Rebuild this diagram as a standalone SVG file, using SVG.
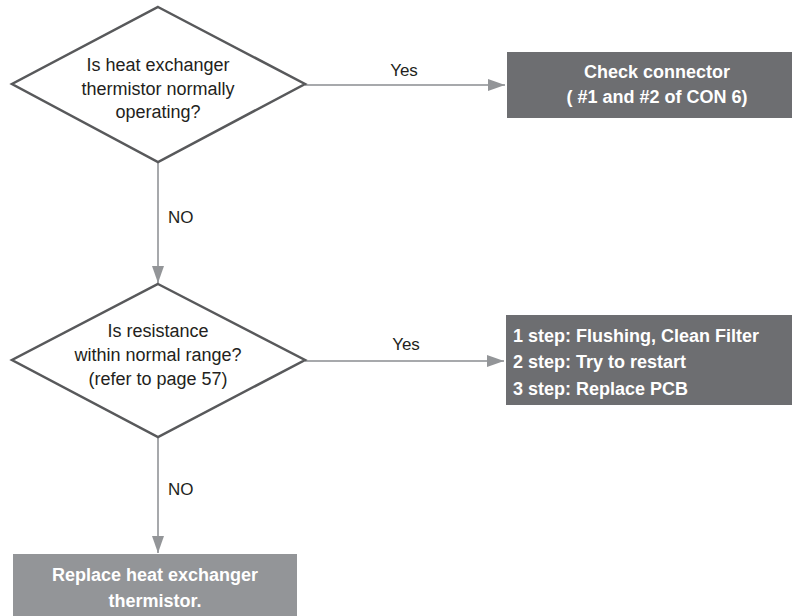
<svg xmlns="http://www.w3.org/2000/svg" width="792" height="616" viewBox="0 0 792 616">
<style>
.dia{fill:#ffffff;stroke:#58595b;stroke-width:2.5;stroke-linejoin:miter}
.con{fill:none;stroke:#a7a9ac;stroke-width:2}
.t{font-family:"Liberation Sans",Arial,sans-serif;font-size:18px;fill:#231f20;text-anchor:middle}
.lbl{font-family:"Liberation Sans",Arial,sans-serif;font-size:17px;fill:#231f20}
.bt{font-family:"Liberation Sans",Arial,sans-serif;font-size:18px;font-weight:bold;fill:#ffffff}
.dark{fill:#6d6e71}
.light{fill:#939598}
</style>
<defs>
<marker id="ah" markerUnits="userSpaceOnUse" markerWidth="18" markerHeight="12" refX="17" refY="6" orient="auto">
<path d="M0,0 L17,6 L0,12 Z" fill="#939598"/>
</marker>
</defs>
<g id="connectors">
<line class="con" x1="305" y1="85" x2="505" y2="85" marker-end="url(#ah)"/>
<line class="con" x1="158" y1="162" x2="158" y2="283" marker-end="url(#ah)"/>
<line class="con" x1="305" y1="361" x2="504" y2="361" marker-end="url(#ah)"/>
<line class="con" x1="158" y1="437" x2="158" y2="553" marker-end="url(#ah)"/>
<text class="lbl" x="404" y="76" text-anchor="middle">Yes</text>
<text class="lbl" x="168" y="223">NO</text>
<text class="lbl" x="406" y="350" text-anchor="middle">Yes</text>
<text class="lbl" x="168" y="495">NO</text>
</g>
<g id="decision1">
<polygon class="dia" points="158,7 305,84 158,162 12,84"/>
<text class="t" x="158" y="71">Is heat exchanger</text>
<text class="t" x="158" y="95">thermistor normally</text>
<text class="t" x="158" y="118">operating?</text>
</g>
<g id="checkConnector">
<rect class="dark" x="507" y="52" width="285" height="66"/>
<text class="bt" x="657" y="78" text-anchor="middle">Check connector</text>
<text class="bt" x="657" y="103" text-anchor="middle">( #1 and #2 of CON 6)</text>
</g>
<g id="decision2">
<polygon class="dia" points="158,284 305,360 158,437 12,360"/>
<text class="t" x="158" y="337">Is resistance</text>
<text class="t" x="158" y="361">within normal range?</text>
<text class="t" x="158" y="385">(refer to page 57)</text>
</g>
<g id="steps">
<rect class="dark" x="506" y="315" width="286" height="90"/>
<text class="bt" x="513" y="342">1 step: Flushing, Clean Filter</text>
<text class="bt" x="513" y="368">2 step: Try to restart</text>
<text class="bt" x="513" y="395">3 step: Replace PCB</text>
</g>
<g id="replaceThermistor">
<rect class="light" x="13" y="554" width="284" height="62"/>
<text class="bt" x="155" y="581" text-anchor="middle">Replace heat exchanger</text>
<text class="bt" x="155" y="607" text-anchor="middle">thermistor.</text>
</g>
</svg>
